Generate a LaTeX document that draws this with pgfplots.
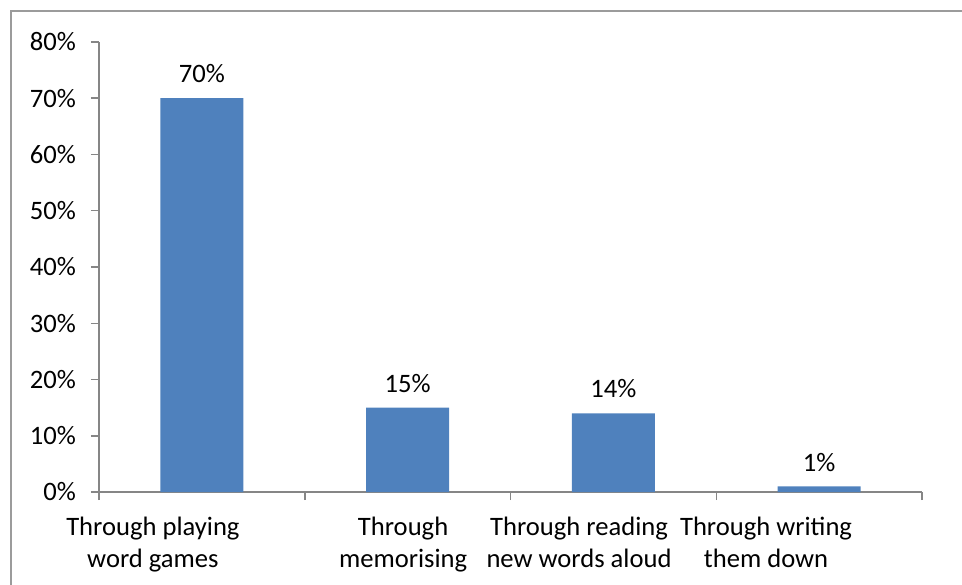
\documentclass[border=0pt]{standalone}
\usepackage{pgfplots}
\pgfplotsset{compat=1.18}
\usepackage{fontspec}
\setmainfont{Carlito}
\definecolor{barblue}{RGB}{79,129,189}
\definecolor{axisgray}{RGB}{134,134,134}
\definecolor{framegray}{RGB}{155,155,155}

\begin{document}
\begin{tikzpicture}
  \begin{axis}[
    at={(49.5pt,46pt)}, anchor=south west,
    scale only axis, width=411.5pt, height=225pt,
    xmin=-0.5, xmax=3.5, ymin=0, ymax=80,
    axis lines*=left,
    axis line style={axisgray, line width=0.75pt, -},
    tick align=outside,
    major tick length=4pt,
    tick style={axisgray, line width=0.75pt},
    ytick={0,10,...,80},
    yticklabel={\pgfmathprintnumber{\tick}\%},
    /pgf/number format/assume math mode=true,
    xtick={-0.5,0.5,1.5,2.5,3.5},
    xticklabels={},
    extra x ticks={-0.238,0.978,1.833,2.742},
    extra x tick labels={{Through playing\\word games},{Through\\memorising},{Through reading\\new words aloud},{Through writing\\them down}},
    extra x tick style={major tick length=0pt, tick style={draw=none}},
    ticklabel style={font=\fontsize{13.3}{15}\selectfont, text=black},
    xticklabel style={align=center, yshift=-9pt, font=\fontsize{13.3}{15.8}\selectfont},
    yticklabel style={xshift=-4pt},
    ybar, bar width=41.5pt,
    nodes near coords={\pgfmathprintnumber{\pgfplotspointmeta}\%},
    nodes near coords style={font=\fontsize{13.3}{15}\selectfont, text=black, yshift=4pt},
    point meta=y,
    clip=false,
  ]
    \addplot[fill=barblue, draw=none] coordinates {(0,70) (1,15) (2,14) (3,1)};
  \end{axis}
  % chart frame, running past the right and bottom edges
  \draw[framegray, line width=1pt] (5.5pt,-20pt) rectangle (500pt,286.5pt);
  \pgfresetboundingbox
  \path[use as bounding box] (0pt,0pt) rectangle (481pt,292pt);
\end{tikzpicture}
\end{document}
